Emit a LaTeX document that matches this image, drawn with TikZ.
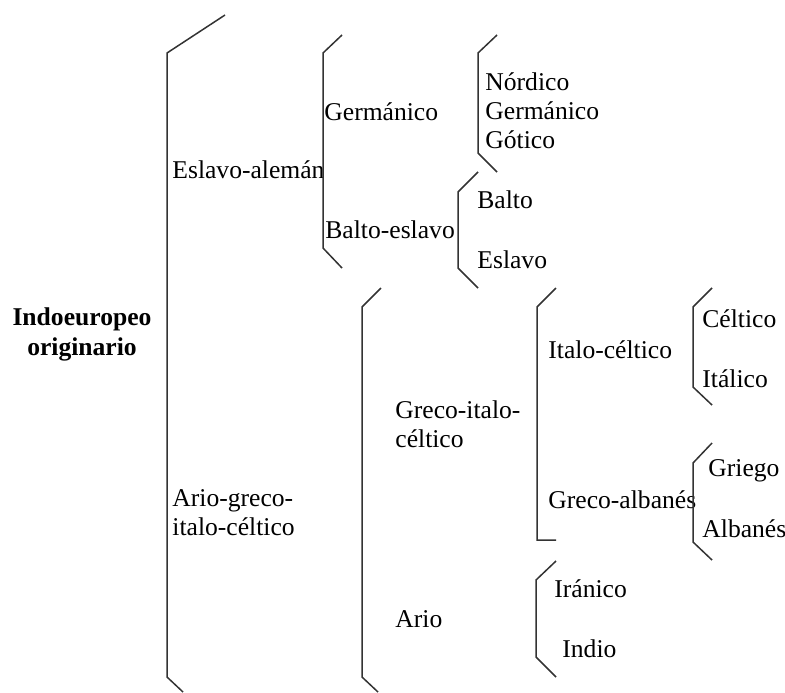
\documentclass[tikz,border=0pt]{standalone}
\usepackage{fontspec}
\setmainfont{Liberation Serif}
\usepackage{tikz}
\usetikzlibrary{positioning}
\definecolor{brkgray}{HTML}{333333}

\begin{document}
\begin{tikzpicture}[x=0.5pt, y=-0.5pt,
    lang/.style={anchor=base west, inner sep=0pt, align=left,
                 font=\fontsize{12.8}{14.5}\selectfont},
    brk/.style={draw=brkgray, line width=0.75pt},
]
    \useasboundingbox (0,0) rectangle (785,692);

    % root
    \node[lang, anchor=base, align=center, font=\fontsize{12.8}{15}\selectfont\bfseries]
        (root) at (82,355) {Indoeuropeo\\originario};
    \draw[brk] (225,15) -- (167,53) -- (167,677) -- (183,692);
    \node[lang] (eslaleman) at (172,178) {Eslavo-alemán};
    \node[lang] (ariogreco) at (172,535) {Ario-greco-\\italo-céltico};

    % Eslavo-alemán branch
    \draw[brk] (342,35) -- (323,53) -- (323,248) -- (342,268);
    \node[lang] (germanico) at (324,120) {Germánico};
    \node[lang] (baltoeslavo) at (325,238) {Balto-eslavo};

    \draw[brk] (497,35) -- (478,53) -- (478,153) -- (497,172);
    \node[lang] (nordico) at (485,148) {Nórdico\\Germánico\\Gótico};

    \draw[brk] (478,172) -- (458,192) -- (458,268) -- (478,288);
    \node[lang] (balto) at (477,208) {Balto};
    \node[lang] (eslavo) at (477,268) {Eslavo};

    % Ario-greco-italo-céltico branch
    \draw[brk] (381,288) -- (362,307) -- (362,677) -- (378,692);
    \node[lang] (grecoitalo) at (395,447) {Greco-italo-\\céltico};
    \node[lang] (ario) at (395,627) {Ario};

    \draw[brk] (556,288) -- (537,307) -- (537,540) -- (556,540);
    \node[lang] (italoceltico) at (548,358) {Italo-céltico};
    \node[lang] (grecoalbanes) at (548,508) {Greco-albanés};

    \draw[brk] (556,561) -- (536,580) -- (536,657) -- (556,677);
    \node[lang] (iranico) at (554,597) {Iránico};
    \node[lang] (indio) at (562,657) {Indio};

    \draw[brk] (712,288) -- (693,307) -- (693,387) -- (712,405);
    \node[lang] (celtico) at (702,327) {Céltico};
    \node[lang] (italico) at (702,387) {Itálico};

    \draw[brk] (712,443) -- (693,463) -- (693,542) -- (712,560);
    \node[lang] (griego) at (708,476) {Griego};
    \node[lang] (albanes) at (702,537) {Albanés};
\end{tikzpicture}
\end{document}
